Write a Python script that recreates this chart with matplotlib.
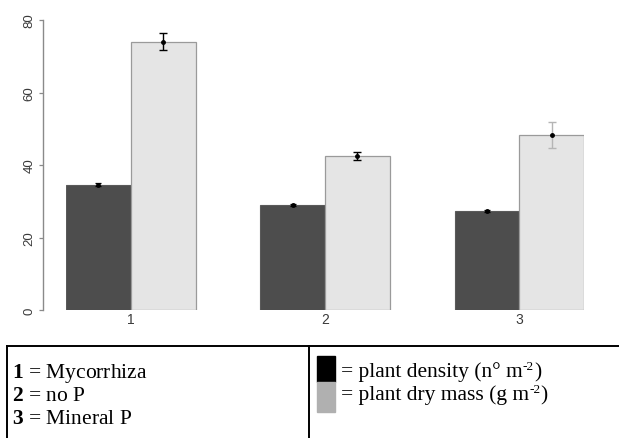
import matplotlib
matplotlib.use("Agg")
import matplotlib.pyplot as plt
from matplotlib.lines import Line2D
from matplotlib.patches import Rectangle
import numpy as np

plt.rcParams['mathtext.fontset'] = 'custom'
plt.rcParams['mathtext.rm'] = 'Liberation Serif'
plt.rcParams['mathtext.bf'] = 'Liberation Serif:bold'

# data
groups = ['1', '2', '3']
density = [34.6, 29.0, 27.4]
density_err = [0.5, 0.3, 0.3]
drymass = [74.0, 42.4, 48.4]
drymass_err = [2.3, 1.1, 3.6]
drymass_errcol = ['black', 'black', '#b5b5b5']
yticks = [0, 20, 40, 60, 80]

treatments = ['Mycorrhiza', 'no P', 'Mineral P']
legend_labels = [('= plant density (n° m', '-2', ')'),
                 ('= plant dry mass (g m', '-2', ')')]
legend_cols = ['black', '#b0b0b0']

W, H = 619, 439
fig = plt.figure(figsize=(W / 100, H / 100), dpi=100)


def fx(px):
    return px / W


def fy(py):
    return 1 - py / H


ax = fig.add_axes([fx(66), fy(311), 518 / W, 290 / H])

# R-style barplot: groups of two bars, one gap between groups
dark_x = 1.5 + 3 * np.arange(len(groups))
light_x = dark_x + 1
ax.bar(dark_x, density, width=1, color='#4d4d4d', edgecolor='#5a5a5a', linewidth=0.8)
ax.bar(light_x, drymass, width=1, color='#e5e5e5', edgecolor='#9a9a9a', linewidth=0.9)

ax.errorbar(dark_x, density, yerr=density_err, fmt='o', ms=2.5, color='black',
            ecolor='black', elinewidth=0.9, capsize=2.5, capthick=0.9)
for x, m, e, c in zip(light_x, drymass, drymass_err, drymass_errcol):
    ax.errorbar([x], [m], yerr=[e], fmt='none', ecolor=c,
                elinewidth=1.0, capsize=3, capthick=1.0)
    ax.plot([x], [m], 'o', ms=2.5, color='black')

ax.set_xlim(1, 9)
ax.set_ylim(0, 80)
for s in ['top', 'right', 'bottom']:
    ax.spines[s].set_visible(False)
ax.spines['left'].set_position(('outward', 16.5))
ax.spines['left'].set_bounds(0, 80)
ax.spines['left'].set_color('#8a8a8a')
ax.spines['left'].set_linewidth(1.0)

ax.set_yticks(yticks)
ax.set_yticklabels([str(t) for t in yticks], rotation=90, va='center',
                   fontsize=9.5, color='#3a3a3a', family='Liberation Sans')
ax.tick_params(axis='y', length=3, width=0.9, color='#8a8a8a', pad=2.5)
ax.set_xticks(dark_x + 0.5)
ax.set_xticklabels(groups, fontsize=10, color='#3a3a3a', family='Liberation Sans')
ax.tick_params(axis='x', length=0, pad=1.5)

# table frame below the chart
lc = 'black'
fig.add_artist(Line2D([fx(7), fx(619)], [fy(347), fy(347)], color=lc, lw=1.4,
                      transform=fig.transFigure))
fig.add_artist(Line2D([fx(7), fx(7)], [fy(347), fy(439)], color=lc, lw=1.4,
                      transform=fig.transFigure))
fig.add_artist(Line2D([fx(309), fx(309)], [fy(347), fy(439)], color=lc, lw=1.4,
                      transform=fig.transFigure))

fs = 15.5
baselines = [378, 401, 424]
for g, name, b in zip(groups, treatments, baselines):
    fig.text(fx(12), fy(b), r'$\mathbf{%s}$ = %s' % (g, name), fontsize=fs,
             family='Liberation Serif', va='baseline')

# legend swatches + labels (superscript placed as its own small text)
fig.canvas.draw()
renderer = fig.canvas.get_renderer()
boxes = [(357, 383), (383, 413)]
for (t, b), col, parts, base in zip(boxes, legend_cols, legend_labels, [377, 400]):
    fig.add_artist(Rectangle((fx(317), fy(b)), 18 / W, (b - t) / H, color=col,
                             transform=fig.transFigure))
    main, sup, tail = parts
    t1 = fig.text(fx(341), fy(base), main, fontsize=fs, family='Liberation Serif',
                  va='baseline')
    x1 = t1.get_window_extent(renderer).x1
    t2 = fig.text(x1 / W, fy(base - 7), sup, fontsize=fs * 0.62,
                  family='Liberation Serif', va='baseline')
    x2 = t2.get_window_extent(renderer).x1
    fig.text(x2 / W, fy(base), tail, fontsize=fs, family='Liberation Serif',
             va='baseline')

fig.savefig('out.png', dpi=100)
